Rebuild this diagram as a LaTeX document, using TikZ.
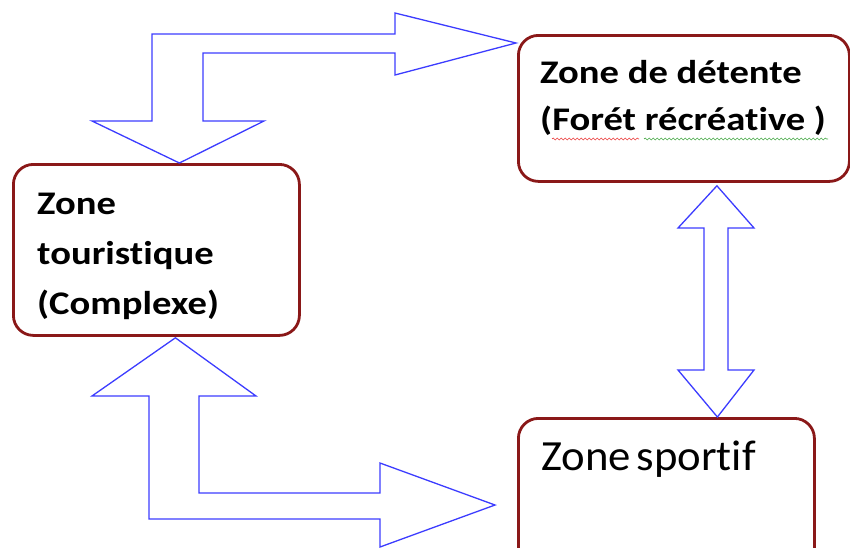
\documentclass[tikz,border=0pt]{standalone}
\usepackage{fontspec}
\setmainfont{Carlito}
\newfontfamily\zonebold[FakeStretch=1.17,Ligatures=NoCommon]{Carlito}
\newfontfamily\zoneplain[FakeStretch=1.04,Ligatures=NoCommon]{Carlito}
\usepackage{xcolor}
\usetikzlibrary{positioning,calc,decorations.pathmorphing}
\definecolor{BoxRed}{RGB}{138,24,24}
\definecolor{ArrBlue}{RGB}{60,60,255}
\definecolor{SpellRed}{RGB}{235,60,60}
\definecolor{SpellGreen}{RGB}{70,170,70}
\tikzset{
  zone/.style={rectangle,rounded corners=20pt,draw=BoxRed,line width=2.8pt,
               fill=white,inner sep=0pt,anchor=north west},
  lbl/.style={align=left,inner sep=0pt,anchor=base west,
              font=\zonebold\fontsize{33}{50}\selectfont\bfseries},
  blockarr/.style={draw=ArrBlue,fill=white,line width=1.3pt,line join=miter},
  squig/.style={decorate,decoration={snake,segment length=4pt,amplitude=1pt},
                line width=0.6pt},
}

\begin{document}
\begin{tikzpicture}[x=1pt,y=-1pt]
  \useasboundingbox (0,0) rectangle (850,547);

  % boxes
  \node[zone,minimum width=286pt,minimum height=171pt] (tour) at (12,163) {};
  \node[zone,minimum width=331pt,minimum height=146pt] (det)  at (517,34) {};
  \node[zone,minimum width=296pt,minimum height=160pt] (spor) at (517,417) {};

  % texts (anchored on the last line)
  \node[lbl] (tourtxt) at ($(tour.north west)+(25,151)$) {Zone\\touristique\\(Complexe)};
  \node[lbl,font=\zonebold\fontsize{33}{47}\selectfont\bfseries] (dettxt)
        at ($(det.north west)+(23,96)$) {Zone de détente\\(Forét récréative )};
  \node[lbl,font=\zoneplain\fontsize{43}{50}\selectfont] (sportxt)
        at ($(spor.north west)+(24,53)$) {Zone\hspace{0.14em}sportif};

  % spelling marks
  \draw[squig,SpellRed]   (552,139) -- (639,139);
  \draw[squig,SpellGreen] (644,139) -- (828,139);

  % block arrows
  \coordinate (tipA) at ($(tour.north)+(23,0)$);
  \coordinate (tipB) at ($(det.north west)+(-1,9)$);
  \draw[blockarr] (152,121) -- (152,34) -- (395,34) -- (395,13) -- (tipB)
        -- (395,75) -- (395,53) -- (203,53) -- (203,121) -- (264,121)
        -- (tipA) -- (92,121) -- cycle;

  \coordinate (tipC) at ($(tour.south)+(19,1)$);
  \coordinate (tipD) at ($(spor.north west)+(-22,88)$);
  \draw[blockarr] (149,396) -- (149,519) -- (380,519) -- (380,547) -- (tipD)
        -- (380,463) -- (380,493) -- (199,493) -- (199,396) -- (256,396)
        -- (tipC) -- (92,396) -- cycle;

  \coordinate (tipE) at ($(det.south)+(33,3)$);
  \coordinate (tipF) at ($(spor.north)+(51,0)$);
  \draw[blockarr] (tipE) -- (754,228) -- (728,228) -- (728,370) -- (754,370)
        -- (tipF) -- (678,370) -- (704,370) -- (704,228) -- (678,228) -- cycle;
\end{tikzpicture}
\end{document}
